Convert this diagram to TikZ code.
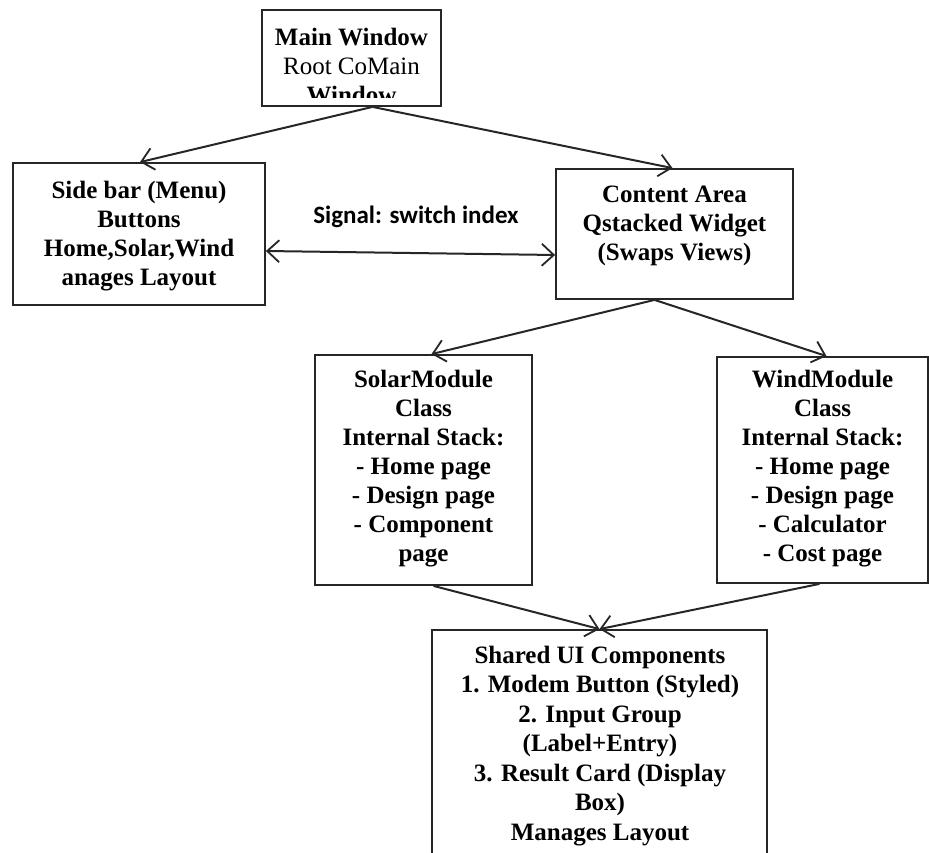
\documentclass[tikz,border=0pt]{standalone}
\usepackage{fontspec}
\setmainfont{Liberation Serif}
\newfontfamily\sigfont{Carlito}
\usetikzlibrary{arrows.meta}
\tikzset{
  box/.style={draw=black!85, line width=1.8pt, inner sep=0pt, fill=none},
  txt/.style={align=center, inner sep=0pt, font=\fontsize{25}{29}\selectfont\bfseries},
  conn/.style={line width=2pt, draw=black!85, -{Straight Barb[length=12pt,width=22pt,line width=1.8pt]}},
  dconn/.style={line width=2pt, draw=black!85, {Straight Barb[length=12pt,width=22pt,line width=1.8pt]}-{Straight Barb[length=12pt,width=22pt,line width=1.8pt]}}
}
\begin{document}
\begin{tikzpicture}[x=1pt,y=-1pt]
\clip (0,0) rectangle (929,853);
\fill[white] (0,0) rectangle (929,853);
% boxes
\node[box, minimum width=179pt, minimum height=96pt] (main) at (351.5,58) {};
\node[box, minimum width=252pt, minimum height=142pt] (side) at (139,234) {};
\node[box, minimum width=237pt, minimum height=130pt] (content) at (674.5,234) {};
\node[box, minimum width=217pt, minimum height=230pt] (solar) at (423.5,470) {};
\node[box, minimum width=211pt, minimum height=226pt] (wind) at (822.5,470) {};
\node[box, minimum width=335pt, minimum height=240pt] (shared) at (599.5,750) {};
% texts
\begin{scope}
\clip (main.north west) rectangle ([yshift=9pt]main.south east);
\node[txt] (maint) at (351.5,66) {Main Window\\\mdseries Root CoMain\\Window};
\end{scope}
\node[txt] (sidet) at (139,236) {Side bar (Menu)\\Buttons\\Home,Solar,Wind\\anages Layout};
\node[txt] (contentt) at (674.5,226) {Content Area\\Qstacked Widget\\(Swaps Views)};
\node[txt] (solart) at (423.5,469) {SolarModule\\Class\\Internal Stack:\\- Home page\\- Design page\\- Component\\page};
\node[txt] (windt) at (822.5,469) {WindModule\\Class\\Internal Stack:\\- Home page\\- Design page\\- Calculator\\- Cost page};
\node[txt, font=\fontsize{25}{29.5}\selectfont\bfseries] (sharedt) at (600,746) {Shared UI Components\\1. Modem Button (Styled)\\2. Input Group\\(Label+Entry)\\3. Result Card (Display\\Box)\\Manages Layout};
\node[inner sep=0pt, font=\sigfont\fontsize{25}{29}\selectfont\bfseries] (sig) at (416,217) {Signal: switch index};
% connectors
\draw[conn] ([xshift=21pt]main.south) -- ([xshift=1pt]side.north);
\draw[conn] ([xshift=21pt]main.south) -- ([xshift=-2pt]content.north);
\draw[dconn] ([yshift=-17pt]side.east) -- ([yshift=-21pt]content.west);
\draw[conn] ([xshift=-20pt]content.south) -- ([xshift=8pt]solar.north);
\draw[conn] ([xshift=-20pt]content.south) -- ([xshift=4pt]wind.north);
\draw[conn] ([xshift=10pt]solar.south) -- ([xshift=0pt]shared.north);
\draw[conn] ([xshift=-3pt]wind.south) -- ([xshift=0pt]shared.north);
\end{tikzpicture}
\end{document}
